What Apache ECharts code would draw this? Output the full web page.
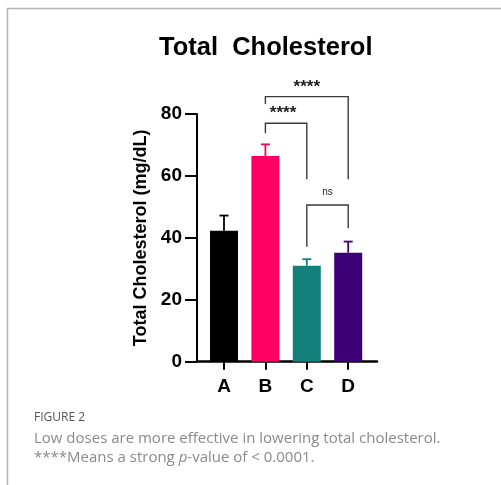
<!DOCTYPE html>
<html>
<head>
<meta charset="utf-8">
<script src="https://cdn.jsdelivr.net/npm/echarts@6/dist/echarts.min.js"></script>
<style>html,body{margin:0;padding:0;background:#fff}#c{width:501px;height:485px}</style>
</head>
<body>
<div id="c"></div>
<script>
const categories = ['A', 'B', 'C', 'D'];
const means = [42.3, 66.4, 31.0, 35.2];
const errors = [4.9, 3.8, 2.1, 3.6];
const barColors = ['#000000', '#ff0062', '#137f7b', '#3e0077'];
const yTicks = [0, 20, 40, 60, 80];
const brackets = [
  { from: 'B', to: 'D', top: 85.6, fromEnd: 83.2, toEnd: 58.9, label: '****' },
  { from: 'B', to: 'C', top: 77.0, fromEnd: 73.8, toEnd: 58.9, label: '****' },
  { from: 'C', to: 'D', top: 50.6, fromEnd: 37.1, toEnd: 43.1, label: 'ns' }
];

const chart = echarts.init(document.getElementById('c'), null, { renderer: 'canvas' });
const FONT = '"Liberation Sans", Arial, sans-serif';
const CAP = '"Open Sans", sans-serif';
const GRID_TOP = 114, GRID_BOTTOM = 123.3;

const option = {
  animation: false,
  backgroundColor: '#ffffff',
  title: {
    text: 'Total  Cholesterol',
    left: 154, top: 30,
    textStyle: { fontFamily: FONT, fontWeight: 'bold', fontSize: 25.5, color: '#000' }
  },
  grid: [
    { left: 203.3, width: 165.6, top: GRID_TOP, bottom: GRID_BOTTOM },
    { left: 197, right: 124, top: GRID_TOP, bottom: GRID_BOTTOM }
  ],
  xAxis: [
    {
      type: 'category', gridIndex: 0, data: categories,
      axisLine: { show: false },
      axisTick: { show: true, alignWithLabel: true, length: 8, lineStyle: { color: '#000', width: 2 } },
      axisLabel: { fontFamily: FONT, fontWeight: 'bold', fontSize: 19, color: '#000', margin: 16 }
    },
    {
      type: 'value', gridIndex: 1, min: 0, max: 1,
      axisLine: { show: true, onZero: false, lineStyle: { color: '#000', width: 2.5 } },
      axisTick: { show: false }, axisLabel: { show: false }, splitLine: { show: false }
    }
  ],
  yAxis: [
    {
      type: 'value', gridIndex: 0, min: 0, max: 80, interval: 20,
      show: false, splitLine: { show: false }
    },
    {
      type: 'value', gridIndex: 1, min: yTicks[0], max: yTicks[yTicks.length - 1], interval: 20,
      name: 'Total Cholesterol (mg/dL)', nameLocation: 'middle', nameGap: 47,
      nameTextStyle: { fontFamily: FONT, fontWeight: 'bold', fontSize: 18, color: '#000' },
      axisLine: { show: true, lineStyle: { color: '#000', width: 2 } },
      axisTick: { show: true, length: 12, lineStyle: { color: '#000', width: 2 } },
      axisLabel: { fontFamily: FONT, fontWeight: 'bold', fontSize: 19, color: '#000', margin: 15 },
      splitLine: { show: false }
    }
  ],
  series: [
    {
      type: 'bar', xAxisIndex: 0, yAxisIndex: 0, barWidth: 28,
      data: means.map((v, i) => ({ value: v, itemStyle: { color: barColors[i] } })),
      z: 2
    },
    {
      type: 'custom', xAxisIndex: 0, yAxisIndex: 0, clip: false, z: 3,
      data: means.map((v, i) => [i, v, errors[i]]),
      renderItem: function (params, api) {
        const i = api.value(0);
        const base = api.coord([i, api.value(1)]);
        const top = api.coord([i, api.value(1) + api.value(2)]);
        const col = barColors[i];
        const hw = 4.5;
        return {
          type: 'group',
          children: [
            { type: 'line', shape: { x1: base[0], y1: base[1], x2: top[0], y2: top[1] }, style: { stroke: col, lineWidth: 1.8 } },
            { type: 'line', shape: { x1: top[0] - hw, y1: top[1], x2: top[0] + hw, y2: top[1] }, style: { stroke: col, lineWidth: 1.8 } }
          ]
        };
      }
    },
    {
      type: 'custom', xAxisIndex: 0, yAxisIndex: 0, clip: false, z: 4,
      data: brackets.map(b => [categories.indexOf(b.from), categories.indexOf(b.to), b.top, b.fromEnd, b.toEnd]),
      renderItem: function (params, api) {
        const b = brackets[params.dataIndex];
        const a = api.value(0), c = api.value(1);
        const p1 = api.coord([a, api.value(3)]);
        const p2 = api.coord([a, api.value(2)]);
        const p3 = api.coord([c, api.value(2)]);
        const p4 = api.coord([c, api.value(4)]);
        const stars = b.label.indexOf('*') >= 0;
        return {
          type: 'group',
          children: [
            { type: 'polyline', shape: { points: [p1, p2, p3, p4] }, style: { stroke: '#3a3a3a', lineWidth: 1.4, fill: null } },
            {
              type: 'text',
              style: {
                x: (p2[0] + p3[0]) / 2 - (stars && (c - a) === 1 ? 3 : 0),
                y: p2[1] - (stars ? 1 : 8),
                text: b.label,
                align: 'center', verticalAlign: 'bottom',
                font: (stars ? 'bold 17px ' : '10px ') + FONT,
                fill: '#222'
              }
            }
          ]
        };
      }
    }
  ],
  graphic: [
    {
      type: 'polyline', silent: true,
      shape: { points: [[7.5, 485], [7.5, 8.5], [501, 8.5]] },
      style: { stroke: '#b4b4b4', lineWidth: 1.5, fill: null }
    },
    {
      type: 'text', left: 34, top: 412,
      style: { text: 'FIGURE 2', font: '12px ' + CAP, fill: '#555' }
    },
    {
      type: 'text', left: 34, top: 429,
      style: {
        text: 'Low doses are more effective in lowering total cholesterol.\n****Means a strong {i|p}-value of < 0.0001.',
        font: '15px ' + CAP, fill: '#8a8a8a', lineHeight: 19,
        rich: { i: { fontStyle: 'italic', fontFamily: CAP, fontSize: 15, fill: '#8a8a8a', lineHeight: 19 } }
      }
    }
  ]
};
chart.setOption(option);
</script>
</body>
</html>
